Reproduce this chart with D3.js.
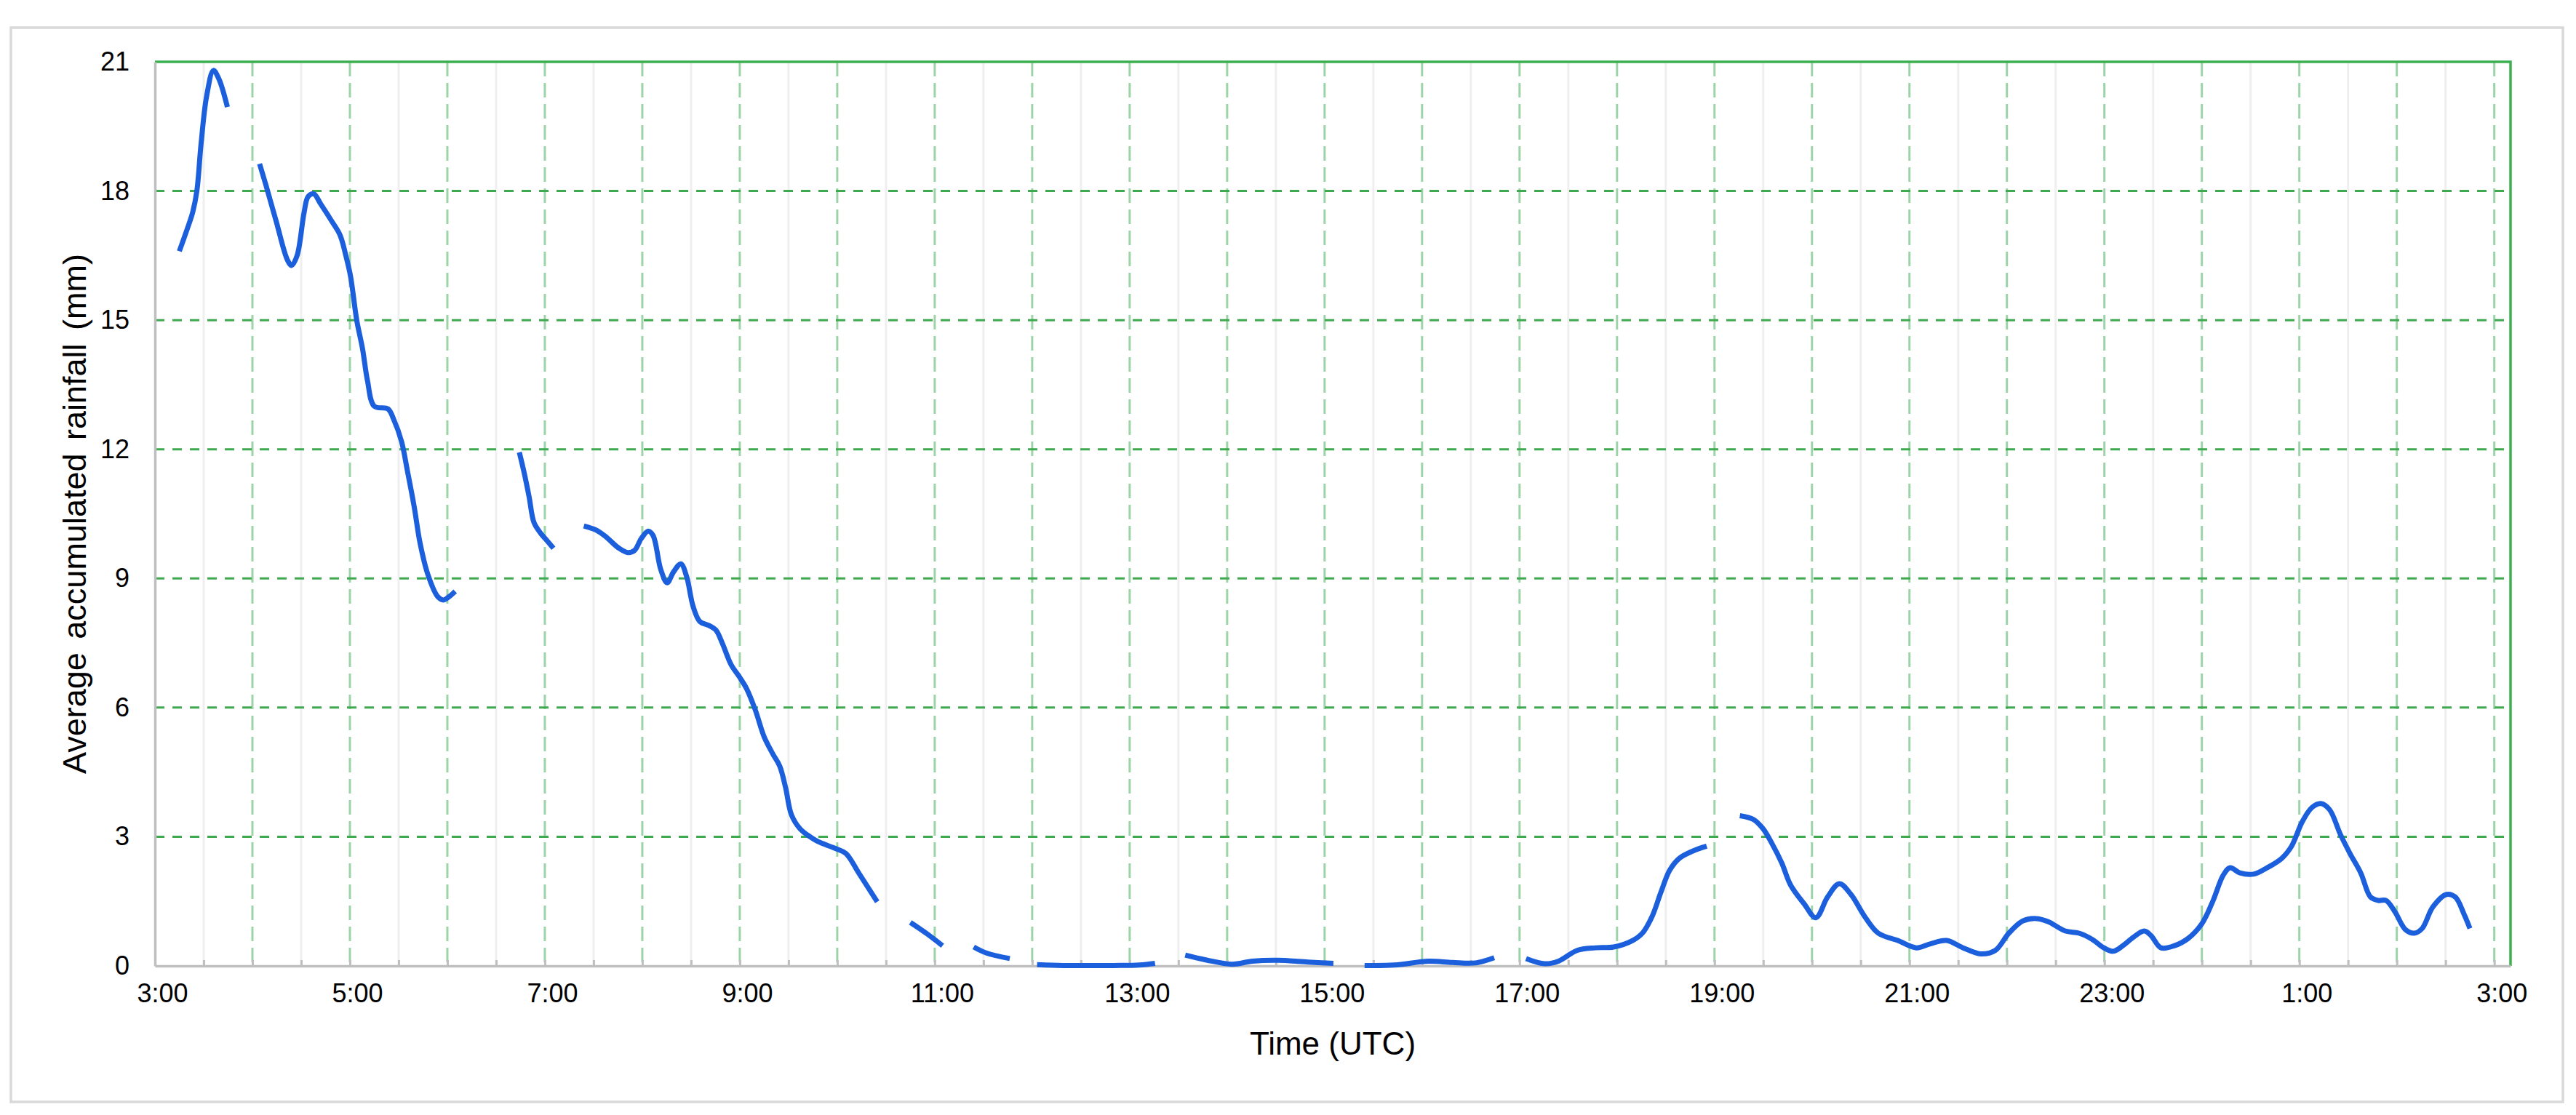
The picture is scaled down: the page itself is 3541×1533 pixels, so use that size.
<!DOCTYPE html>
<html>
<head>
<meta charset="utf-8">
<style>
    body {
        margin: 0;
        background: #fff;
    }

    svg {
        display: block;
    }

    text {
        font-family: "Liberation Sans", Arial, sans-serif;
        fill: #000;
    }
</style>
</head>
<body>
<svg id="chart"></svg>
<script src="https://cdn.jsdelivr.net/npm/d3@7"></script>
<script>
    // minutes after 03:00 UTC; a null rainfall value breaks the line
    var timeMinutes = [
        15, 19.7, 23.2, 25.8, 28.4, 31.8, 36, 39.4, 44.6, 52,
        64.4, 68.6, 74.6, 81.5, 84.1, 87.5, 91.8, 94.3, 97.8, 102, 108.8, 114, 117.5, 120.4, 124.2,
        127.8, 130.8, 135, 143.4, 147, 151.8, 155.4, 159.6, 163.2, 168, 174, 177.6, 181.2, 184.8, 200,
        224.3, 227.3, 230.3, 233.3, 237.4, 241.3, 245.3, 255,
        264, 271.2, 277.2, 285.3, 291, 295.2, 299.4, 303.6, 306.6, 311.4, 315.3, 319.2, 323.7, 327.3,
        331.2, 335.4, 341.4, 345.3, 349.2, 354.6, 360, 364.2, 369.6, 375, 380.4, 384.6, 388.2, 391.8,
        397.2, 403.2, 408, 419.4, 425.4, 433.2, 444.6, 455,
        465, 474, 484.8, 495,
        504, 511.8, 526.2, 535,
        543, 559, 590, 606, 615.6, 625,
        634.2, 646.8, 663, 675.6, 691.2, 709.8, 725.4, 735,
        744.6, 763, 784, 798.6, 813, 824.4, 834,
        844, 855.6, 864, 875.4, 886.8, 898, 909.6, 915.6, 921.6, 927, 932.4, 938.4, 946.8, 955.2, 965,
        975.6, 984, 990, 995.4, 1001.4, 1006.8, 1015.2, 1022.4, 1029.6, 1036.8, 1044, 1052.4, 1060.8,
        1072.8, 1084.2, 1092.6, 1102.8, 1113, 1123.8, 1132.8, 1141.2, 1149.6, 1158, 1165.2, 1176,
        1184.4, 1192.8, 1198.8, 1205.4, 1211.4, 1218, 1224.6, 1228.8, 1234.8, 1243.2, 1251.6, 1260,
        1266.6, 1273.2, 1277.4, 1283.4, 1291.8, 1300.2, 1309.2, 1315.2, 1321.8, 1327.8, 1333.2, 1338.6,
        1345.2, 1351.2, 1357.8, 1363.8, 1368.6, 1373.4, 1378.8, 1385.4, 1390.8, 1395.6, 1402.2, 1410.6,
        1416, 1421.4, 1425
    ];

    var rainfallMm = [
        16.6, 17.1, 17.5, 18.0, 19.1, 20.2, 20.8, 20.6, 19.95, null,
        18.63, 18.1, 17.3, 16.4, 16.27, 16.5, 17.5, 17.87, 17.93, 17.7, 17.3, 16.97, 16.5, 16.02, 15.0,
        14.33, 13.6, 13.0, 12.94, 12.69, 12.18, 11.5, 10.66, 9.82, 9.09, 8.58, 8.5, 8.58, 8.7, null,
        11.93, 11.45, 10.9, 10.3, 10.05, 9.88, 9.7, null,
        10.22, 10.13, 9.98, 9.71, 9.6, 9.65, 9.93, 10.1, 10.0, 9.2, 8.9, 9.15, 9.34, 9.04,
        8.36, 8.0, 7.9, 7.8, 7.5, 7.0, 6.7, 6.44, 5.94, 5.32, 4.92, 4.64, 4.14, 3.51,
        3.18, 3.0, 2.89, 2.72, 2.61, 2.16, 1.49, null,
        1.01, 0.78, 0.47, null,
        0.44, 0.30, 0.17, null,
        0.03, 0.01, 0.01, 0.02, 0.06, null,
        0.25, 0.14, 0.04, 0.11, 0.13, 0.09, 0.06, null,
        0.01, 0.02, 0.11, 0.08, 0.07, 0.19, null,
        0.17, 0.05, 0.11, 0.36, 0.42, 0.44, 0.59, 0.76, 1.15, 1.71, 2.22, 2.5, 2.67, 2.78, null,
        3.49, 3.40, 3.18, 2.84, 2.39, 1.88, 1.44, 1.12, 1.6, 1.91, 1.66, 1.15, 0.76,
        0.59, 0.42, 0.51, 0.59, 0.42, 0.28, 0.36, 0.76, 1.04, 1.10, 1.03, 0.81,
        0.76, 0.61, 0.44, 0.34, 0.47, 0.67, 0.81, 0.70, 0.42, 0.47, 0.64, 0.98,
        1.49, 2.11, 2.28, 2.16, 2.13, 2.28, 2.5, 2.78, 3.35, 3.68, 3.77, 3.63,
        3.06, 2.61, 2.16, 1.6, 1.52, 1.52, 1.26, 0.84, 0.76, 0.87, 1.37, 1.66,
        1.6, 1.2, 0.87
    ];

    var yTicks = [0, 3, 6, 9, 12, 15, 18, 21];
    var xEndMinutes = 1450;   // axis runs a little past 03:00 of the next day

    var width = 3541;
    var height = 1533;
    var margin = { top: 85, right: 90, bottom: 205, left: 213 };
    var innerW = width - margin.left - margin.right;
    var innerH = height - margin.top - margin.bottom;

    var START = Date.UTC(2000, 0, 1, 3, 0);
    function toDate(m) { return new Date(START + m * 60000); }
    function minutesOf(d) { return Math.round((d - START) / 60000); }

    var data = timeMinutes.map(function (t, i) { return { t: t, v: rainfallMm[i] }; });

    var x = d3.scaleUtc().domain([toDate(0), toDate(xEndMinutes)]).range([0, innerW]);
    var y = d3.scaleLinear().domain([0, 21]).range([innerH, 0]);

    var svg = d3.select("#chart").attr("width", width).attr("height", height);

    // outer frame
    svg.append("rect")
        .attr("x", 15).attr("y", 38)
        .attr("width", width - 33).attr("height", height - 56)
        .attr("fill", "none").attr("stroke", "#d9d9d9").attr("stroke-width", 3.5);

    var g = svg.append("g").attr("transform", "translate(" + margin.left + "," + margin.top + ")");

    var halfHours = d3.range(30, xEndMinutes, 30);

    // half-hour grid (light grey)
    g.append("g").selectAll("line")
        .data(halfHours.filter(function (m) { return m % 60 !== 0; }))
        .enter().append("line")
        .attr("x1", function (m) { return x(toDate(m)); })
        .attr("x2", function (m) { return x(toDate(m)); })
        .attr("y1", 0).attr("y2", innerH)
        .attr("stroke", "#efefef").attr("stroke-width", 3);

    // hourly grid (light green dashed)
    g.append("g").selectAll("line")
        .data(halfHours.filter(function (m) { return m % 60 === 0; }))
        .enter().append("line")
        .attr("x1", function (m) { return x(toDate(m)); })
        .attr("x2", function (m) { return x(toDate(m)); })
        .attr("y1", 0).attr("y2", innerH)
        .attr("stroke", "#9cd4a7").attr("stroke-width", 3)
        .attr("stroke-dasharray", "20,9");

    // horizontal grid (green dashed)
    g.append("g").selectAll("line")
        .data(yTicks.filter(function (v) { return v > 0 && v < 21; }))
        .enter().append("line")
        .attr("x1", 0).attr("x2", innerW)
        .attr("y1", function (v) { return y(v); })
        .attr("y2", function (v) { return y(v); })
        .attr("stroke", "#3fa94f").attr("stroke-width", 3)
        .attr("stroke-dasharray", "13,11");

    // top and right border
    g.append("path")
        .attr("d", "M0,0H" + innerW + "V" + innerH)
        .attr("fill", "none").attr("stroke", "#3cb050").attr("stroke-width", 3.5);

    // x axis
    var fmt = d3.utcFormat("%-H:%M");
    var xAxis = d3.axisBottom(x)
        .tickValues(d3.range(0, xEndMinutes, 30).map(toDate))
        .tickSize(-8).tickSizeOuter(0).tickPadding(24)
        .tickFormat(function (d) { return minutesOf(d) % 120 === 0 ? fmt(d) : ""; });

    var gx = g.append("g").attr("transform", "translate(0," + innerH + ")").call(xAxis);
    gx.select(".domain").attr("stroke", "#bfbfbf").attr("stroke-width", 3.5);
    gx.selectAll(".tick line").attr("stroke", "#bfbfbf").attr("stroke-width", 3);
    gx.selectAll(".tick text").attr("font-size", 36).attr("dx", 10)
        .style("font-family", "'Liberation Sans', Arial, sans-serif").attr("fill", "#000");

    // y axis
    var yAxis = d3.axisLeft(y).tickValues(yTicks).tickSize(0).tickSizeOuter(0).tickPadding(35);
    var gy = g.append("g").call(yAxis);
    gy.select(".domain").attr("stroke", "#bfbfbf").attr("stroke-width", 3.5);
    gy.selectAll(".tick text").attr("font-size", 36)
        .style("font-family", "'Liberation Sans', Arial, sans-serif").attr("fill", "#000");

    // rainfall line
    var line = d3.line()
        .defined(function (d) { return d.v !== null; })
        .x(function (d) { return x(toDate(d.t)); })
        .y(function (d) { return y(d.v); })
        .curve(d3.curveCatmullRom.alpha(0.5));

    g.append("path")
        .datum(data)
        .attr("d", line)
        .attr("fill", "none")
        .attr("stroke", "#1c5fdd")
        .attr("stroke-width", 7)
        .attr("stroke-linejoin", "round");

    // axis titles
    svg.append("text")
        .attr("x", margin.left + innerW / 2).attr("y", 1450)
        .attr("text-anchor", "middle").attr("font-size", 44)
        .text("Time (UTC)");

    svg.append("text")
        .attr("transform", "translate(118," + (margin.top + innerH / 2) + ") rotate(-90)")
        .attr("text-anchor", "middle").attr("font-size", 45)
        .style("word-spacing", "6px")
        .text("Average accumulated rainfall (mm)");
</script>
</body>
</html>
